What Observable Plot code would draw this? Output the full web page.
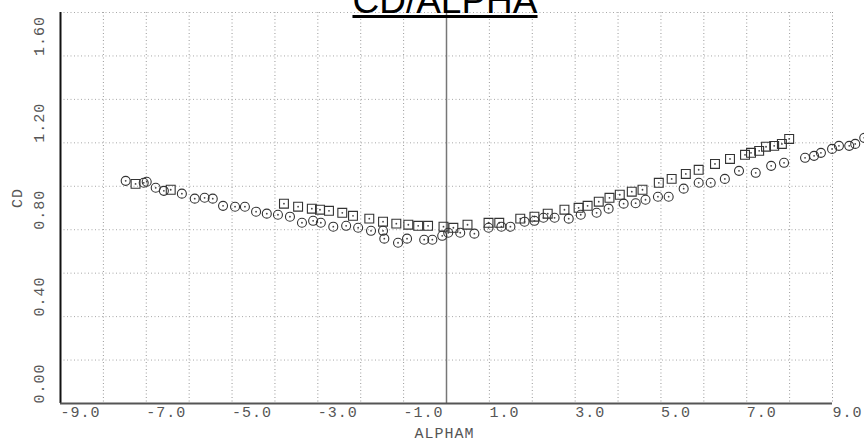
<!DOCTYPE html>
<html><head><meta charset="utf-8">
<script src="https://cdn.jsdelivr.net/npm/d3@7"></script>
<script src="https://cdn.jsdelivr.net/npm/@observablehq/plot@0.6"></script>
<style>
body{margin:0;background:#fff;position:relative;width:864px;height:447px;overflow:hidden}
#title{position:absolute;left:445px;top:-18px;transform:translateX(-50%);font-family:"Liberation Sans",Arial,sans-serif;font-size:37px;line-height:37px;text-decoration:underline;text-decoration-thickness:3px;text-underline-offset:2px;color:#000;white-space:nowrap}
</style></head><body>
<div id="chart"></div>
<div id="title">CD/ALPHA</div>
<script>
// Series 1 (circles)
const circleAlpha = [-7.48,-7.06,-6.99,-6.78,-6.59,-6.17,-5.87,-5.64,-5.45,-5.21,-4.93,-4.70,-4.44,-4.19,-3.93,-3.65,-3.37,-3.11,-2.93,-2.64,-2.34,-2.06,-1.76,-1.48,-1.45,-1.13,-0.92,-0.52,-0.33,-0.10,0.04,0.32,0.65,0.98,1.28,1.49,1.82,2.05,2.26,2.52,2.85,3.13,3.50,3.78,4.13,4.41,4.64,4.93,5.18,5.53,5.88,6.16,6.49,6.82,7.21,7.57,7.87,8.36,8.57,8.73,8.99,9.15,9.39,9.53,9.74];
const circleCD = [1.025,1.016,1.021,0.993,0.979,0.966,0.943,0.947,0.943,0.910,0.906,0.906,0.883,0.874,0.869,0.860,0.832,0.841,0.832,0.814,0.818,0.809,0.795,0.795,0.759,0.740,0.759,0.754,0.754,0.772,0.786,0.786,0.782,0.809,0.814,0.814,0.837,0.841,0.855,0.855,0.851,0.869,0.878,0.897,0.920,0.922,0.938,0.952,0.952,0.989,1.016,1.016,1.034,1.071,1.062,1.094,1.108,1.131,1.140,1.154,1.172,1.186,1.186,1.195,1.223];
// Series 2 (squares)
const squareAlpha = [-7.25,-6.43,-3.79,-3.46,-3.14,-2.95,-2.74,-2.43,-2.18,-1.80,-1.48,-1.17,-0.89,-0.66,-0.43,-0.07,0.16,0.49,0.98,1.23,1.72,2.05,2.36,2.75,3.08,3.29,3.55,3.80,4.04,4.32,4.57,4.95,5.25,5.58,5.88,6.26,6.61,6.96,7.10,7.29,7.45,7.64,7.82,7.99];
const squareCD = [1.011,0.984,0.920,0.906,0.897,0.892,0.887,0.878,0.864,0.851,0.837,0.828,0.823,0.818,0.818,0.814,0.809,0.823,0.832,0.832,0.851,0.860,0.874,0.892,0.901,0.910,0.929,0.947,0.961,0.975,0.984,1.016,1.034,1.057,1.076,1.103,1.126,1.145,1.154,1.163,1.182,1.186,1.195,1.218];

const alphaTicks = [-9,-7,-5,-3,-1,1,3,5,7,9];
const alphaTickLabels = ["-9.0","-7.0","-5.0","-3.0","-1.0","1.0","3.0","5.0","7.0","9.0"];
const cdTicks = [0,0.4,0.8,1.2,1.6];
const cdTickLabels = ["0.00","0.40","0.80","1.20","1.60"];
const gridAlpha = [-8,-7,-6,-5,-4,-3,-2,-1,1,2,3,4,5,6,7,8,9];
const gridCD = [0.2,0.4,0.6,0.8,1.0,1.2,1.4,1.6,1.8];
const xTitle = "ALPHAM";
const yTitle = "CD";

const circles = circleAlpha.map((a,i)=>({alpha:a, cd:circleCD[i]}));
const squares = squareAlpha.map((a,i)=>({alpha:a, cd:squareCD[i]}));
const font = "'Liberation Mono', 'DejaVu Sans Mono', monospace";

const chart = Plot.plot({
  width: 864, height: 447,
  marginLeft: 60, marginRight: 32, marginTop: 12, marginBottom: 44,
  x: {domain: [-9, 9], axis: null},
  y: {domain: [0, 1.8], axis: null},
  style: {background: "#fff", overflow: "visible"},
  marks: [
    Plot.ruleX(gridAlpha, {stroke: "#9a9a9a", strokeWidth: 1, strokeDasharray: "1,2.5"}),
    Plot.ruleY(gridCD, {stroke: "#a8a8a8", strokeWidth: 1, strokeDasharray: "1,2.5"}),
    Plot.ruleX([0], {stroke: "#777", strokeWidth: 1.5}),
    Plot.ruleX([-9], {stroke: "#111", strokeWidth: 2}),
    Plot.ruleY([0], {stroke: "#555", strokeWidth: 2}),
    Plot.text(alphaTicks, {x: d => d, frameAnchor: "bottom", text: (d, i) => alphaTickLabels[i], textAnchor: "start", dy: 13, fontSize: 15, fontFamily: font, fill: "#555"}),
    Plot.text(cdTicks, {y: d => d, frameAnchor: "left", text: (d, i) => cdTickLabels[i], rotate: -90, textAnchor: "start", dx: -21, fontSize: 15, fontFamily: font, fill: "#555"}),
    Plot.text([xTitle], {frameAnchor: "bottom", text: d => d, dy: 34, dx: -2, fontSize: 15, fontFamily: font, fill: "#555"}),
    Plot.text([yTitle], {frameAnchor: "left", text: d => d, rotate: -90, dx: -43, fontSize: 15, fontFamily: font, fill: "#555"}),
    Plot.dot(squares, {x: "alpha", y: "cd", symbol: "square", r: 5, stroke: "#333", strokeWidth: 1.1, fill: "none"}),
    Plot.dot(squares, {x: "alpha", y: "cd", r: 0.9, fill: "#444", stroke: "none"}),
    Plot.dot(circles, {x: "alpha", y: "cd", r: 4.5, stroke: "#333", strokeWidth: 1.1, fill: "none"}),
    Plot.dot(circles, {x: "alpha", y: "cd", r: 0.9, fill: "#444", stroke: "none"})
  ]
});
document.getElementById("chart").appendChild(chart);
document.querySelectorAll("#chart svg text").forEach(t => t.style.letterSpacing = "1px");
</script>
</body></html>
